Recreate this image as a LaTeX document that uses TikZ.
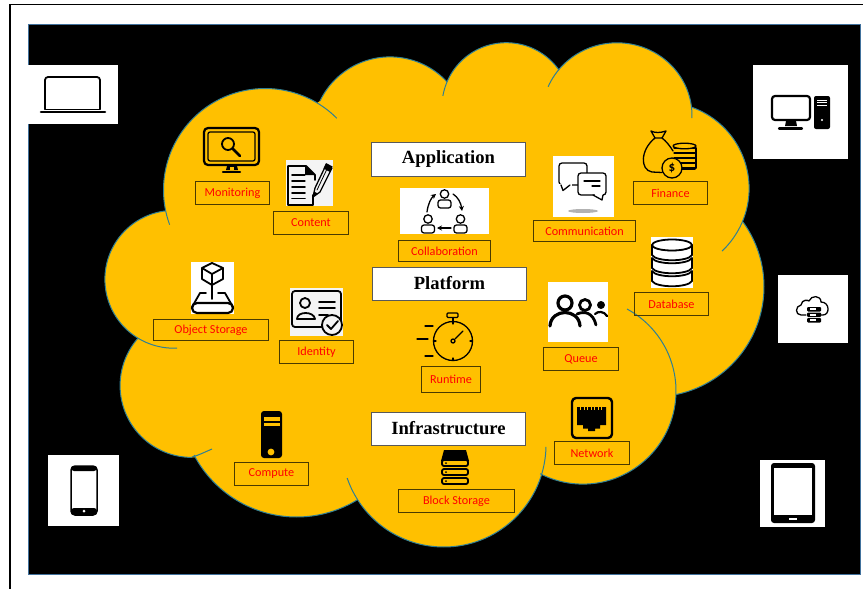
\documentclass[tikz,border=0pt]{standalone}
\usepackage{fontspec}
\setmainfont{Carlito}
\newfontfamily\titlefont{Liberation Serif}
\usetikzlibrary{arrows.meta}
\definecolor{cloudfill}{HTML}{FFC000}
\definecolor{cloudline}{HTML}{2F7F94}
\definecolor{lblline}{HTML}{4A3A00}
\definecolor{softwhite}{HTML}{F4F4F4}
\definecolor{frameblue}{HTML}{41719C}
\tikzset{
  lbl/.style={draw=lblline,line width=1pt,inner sep=0pt,text=red,font=\fontsize{12.2}{14}\selectfont},
  ttl/.style={draw=black!65,line width=1.2pt,fill=white,inner sep=0pt,minimum width=154pt,minimum height=33.5pt,font=\titlefont\bfseries\fontsize{18.6}{20}\selectfont},
  cloudedge/.style={draw=cloudline,line width=1pt},
  bgbox/.style={fill=white},
  ic/.style={draw=black,line width=1.8pt,line join=round,line cap=round},
  thin ic/.style={draw=black,line width=1.3pt,line join=round,line cap=round},
}
\newcommand{\cloudlobe}[4]{% cx cy rx ry: fills the whole ellipse
  \fill[cloudfill] (#1,#2) circle[x radius=#3pt,y radius=#4pt];}
\newcommand{\lobeedge}[6]{%
  \draw[cloudedge] plot[smooth,domain=#5:#6,samples=60,variable=\t] ({#1+#3*cos(\t)},{#2+#4*sin(\t)});}
\newcommand{\collabperson}[2]{%
  \begin{scope}[shift={(#1,#2)}]
    \draw[thin ic] (0,-6) circle (4.2);
    \draw[thin ic,rounded corners=2.5pt] (-6.5,8) rectangle (6.5,0);
  \end{scope}}
\newcommand{\dbdisc}[1]{%
  \draw[ic,fill=white] (652,#1) -- (652,#1+10) .. controls (656,#1+17) and (688,#1+17) .. (692,#1+10) -- (692,#1) .. controls (688,#1+7) and (656,#1+7) .. (652,#1) -- cycle;}
\newcommand{\blockpill}[1]{%
  \draw[ic,fill=cloudfill,rounded corners=2pt] (442,#1) rectangle (468,#1+6);
  \fill[black] (446,#1+3) circle (1);}
\begin{document}
\begin{tikzpicture}[x=1pt,y=-1pt]
\useasboundingbox (0,0) rectangle (863,589);
\fill[white] (0,0) rectangle (863,589);
\draw[black,line width=1.1pt] (863,4.3) -- (10,4.3) -- (10,589);
\draw[fill=black,draw=frameblue,line width=1pt] (28,24) rectangle (860,574);
% cloud body
\fill[cloudfill] (165,211) -- (320,101) -- (447,82) -- (559,70) -- (691,107) -- (743,222) -- (676,393) -- (541,472) -- (357,500) -- (194,455) -- (138,338) -- cycle;
\cloudlobe{265}{190}{101.5}{101.5}
\cloudlobe{390}{134.5}{77.6}{77.6}
\cloudlobe{506.3}{107.1}{64.4}{64.4}
\cloudlobe{617}{115.5}{75}{72.7}
\cloudlobe{663}{188.4}{86.1}{86.1}
\cloudlobe{653.9}{286.7}{110.1}{110.1}
\cloudlobe{582.9}{391}{93.1}{93.1}
\cloudlobe{443.8}{444.8}{102.2}{102.2}
\cloudlobe{296.6}{401.2}{115.8}{115.8}
\cloudlobe{191.9}{385.6}{71.8}{71.8}
\cloudlobe{173.8}{279.3}{68.9}{68.9}
% cloud outline
\lobeedge{265}{190}{101.5}{101.5}{160}{315}
\lobeedge{390}{134.5}{77.6}{77.6}{205.6}{317.4}
\lobeedge{506.3}{107.1}{64.4}{64.4}{190}{325}
\lobeedge{617}{115.5}{75}{72.7}{203.3}{362}
\lobeedge{663}{188.4}{86.1}{86.1}{289}{406.7}
\lobeedge{653.9}{286.7}{110.1}{110.1}{324}{438.3}
\lobeedge{582.9}{391}{93.1}{93.1}{298.3}{477.3}
\lobeedge{443.8}{444.8}{102.2}{102.2}{1.2}{161}
\lobeedge{296.6}{401.2}{115.8}{115.8}{58.6}{152.3}
\lobeedge{191.9}{385.6}{71.8}{71.8}{90}{221.5}
\lobeedge{173.8}{279.3}{68.9}{68.9}{87.3}{262.7}
\draw[cloudedge] (192,457) .. controls (198,455.5) and (205,452) .. (212,449);
% device backgrounds
\fill[bgbox] (28,65) rectangle (118,124);
\fill[bgbox] (753,65) rectangle (848,159);
\fill[bgbox] (778,275) rectangle (848,343);
\fill[bgbox] (760,460) rectangle (825,527);
\fill[bgbox] (48,455) rectangle (119,526);
% laptop
\draw[ic,rounded corners=3pt] (45,109) -- (45,77) -- (100,77) -- (100,109);
\draw[ic,line width=2.6pt] (41,112) -- (105,112);
\draw[ic] (45,109.5) -- (100,109.5);
% desktop
\draw[ic,line width=2.2pt,rounded corners=3pt] (772,96) rectangle (810,120);
\fill[black] (786,121) -- (796,121) -- (797,126) -- (785,126) -- cycle;
\draw[ic,line width=2.2pt] (779,128.5) -- (802,128.5);
\fill[black,rounded corners=2pt] (814,96) rectangle (830,129);
\foreach \yy in {100,102.5,105}{\draw[white,line width=.7pt] (817,\yy) -- (827,\yy);}
\fill[white] (822,120) circle (1.2);
% cloud server
\draw[thin ic] (806,315) -- (801,315) .. controls (795,315) and (795,306) .. (801,305) .. controls (802,299) and (808,300) .. (809,301) .. controls (811,295) and (821,295) .. (821,302) .. controls (830,302) and (830,315) .. (823,315) -- (821,315);
\foreach \yy in {307,312.5,318}{\fill[black,rounded corners=1pt] (807,\yy) rectangle (821,\yy+4.5);\fill[white] (809.5,\yy+1.2) rectangle (816,\yy+3);}
% tablet
\fill[black,rounded corners=3pt] (771,463) rectangle (815,523);
\fill[white] (774,468) rectangle (812,515);
\fill[white] (789,517.5) rectangle (797,520);
% phone
\draw[ic,line width=1.5pt,rounded corners=4pt] (71,466) rectangle (97,515);
\fill[black,rounded corners=3pt] (71,466) rectangle (97,471);
\fill[black,rounded corners=3pt] (71,508) rectangle (97,515);
\fill[white] (84,511) circle (1.5);
% Monitoring icon
\draw[ic,line width=2.2pt,rounded corners=4pt] (204,128) rectangle (259,165);
\draw[thin ic,rounded corners=2pt] (208,132) rectangle (255,161);
\draw[ic] (228,144) circle (6);
\draw[ic,line width=2.6pt] (233,149) -- (240,156);
\fill[black] (227,166) -- (237,166) -- (238,170) -- (226,170) -- cycle;
\draw[ic,line width=2.4pt] (223,172) -- (240,172);
\fill[cloudfill] (230,166.5) rectangle (234,169.5);
% Content icon
\fill[softwhite] (286,160) rectangle (333,206);
\draw[ic] (313,195) -- (313,205) -- (288,205) -- (288,166) -- (306,166) -- (315,175) -- (315,180);
\fill[black] (305,166) -- (315,175) -- (305,175) -- cycle;
\foreach \yy in {175,181,187,193,198.5}{\draw[ic] (292,\yy) -- (303+\yy/100,\yy);}
\draw[thin ic,fill=softwhite] (313,197) -- (315,188) -- (326,165) -- (332,168) -- (320,192) -- cycle;
\fill[black] (326,163) -- (332.5,166.5) -- (330,172) -- (323.5,168.5) -- cycle;
\fill[black] (313,197) -- (314,191.5) -- (318,193.5) -- cycle;
\draw[thin ic,line width=.8pt] (317,190) -- (327,169);
% Collaboration icon
\fill[bgbox] (400,188) rectangle (489,234);
\collabperson{444.5}{200}
\collabperson{428}{225}
\collabperson{460.5}{225}
\draw[thin ic,-{Stealth[length=5pt,width=5pt]}] (427,212) .. controls (428,204) and (431,198) .. (436,194);
\draw[thin ic,-{Stealth[length=5pt,width=5pt]}] (453,194) .. controls (458,197) and (461,203) .. (462,211);
\draw[thin ic,-{Stealth[length=5pt,width=5pt]}] (451,228) -- (437,228);
% Object storage icon
\fill[bgbox] (191,262) rectangle (234,314);
\draw[ic] (212,263) -- (223,268) -- (223,279) -- (212,285) -- (202,279) -- (202,268) -- cycle;
\draw[ic] (202,268) -- (212,274) -- (223,268) (212,274) -- (212,285);
\draw[ic] (212,285) -- (212,299);
\draw[ic] (206,293) -- (200,293) -- (192,307) (218,293) -- (225,293) -- (233,307);
\draw[ic,line width=2.2pt,rounded corners=5pt] (192,303) rectangle (233,313);
% Identity icon
\fill[softwhite] (290,288) rectangle (343,336);
\draw[ic,rounded corners=3pt] (292,291) rectangle (341,327);
\draw[ic] (305,303) circle (5);
\draw[ic] (297,319) .. controls (297,311) and (314,311) .. (315,319) -- cycle;
\draw[ic] (319,302) -- (335,302) (319,308) -- (335,308) (319,315) -- (328,315);
\draw[ic,fill=softwhite] (332,325) circle (10);
\draw[ic] (327,325) -- (331,329) -- (338,321);
% Communication icon
\fill[bgbox] (553,156) rectangle (614,217);
\draw[thin ic,rounded corners=3pt] (559,163) rectangle (587,185);
\fill[bgbox] (559,184) rectangle (572,186.5);
\draw[thin ic] (561,185) -- (563,190.5) -- (570,185);
\draw[thin ic,rounded corners=3pt,fill=white] (578,173) rectangle (606,195);
\fill[bgbox] (595,194) rectangle (603,196);
\draw[thin ic] (593,195) -- (602,200) -- (603,195);
\draw[thin ic] (584,181) -- (600,181) (592,186) -- (600,186);
\fill[black!30] (583,211) ellipse (15 and 2);
% Finance icon
\draw[thin ic] (651,131) .. controls (655,133) and (660,133) .. (666,131) -- (662,138) -- (655,138) -- cycle;
\draw[thin ic] (655,138) .. controls (640,150) and (640,170) .. (652,172) -- (662,172.5) (662,138) .. controls (666,141) and (670,146) .. (673,151);
\foreach \yy in {148,153,158,163,168}{\draw[thin ic] (674,\yy) -- (696,\yy);}
\draw[thin ic,fill=cloudfill] (684.5,146) ellipse (11.5 and 2.8);
\draw[thin ic] (696,148) -- (696,168) (680,169.5) -- (695,169.5);
\draw[thin ic,fill=cloudfill] (672,168) circle (10);
\node[inner sep=0pt,font=\bfseries\fontsize{13}{13}\selectfont] (dollar) at (672,168) {\$};
% Database icon
\fill[bgbox] (651,237) rectangle (693,288);
\dbdisc{271}
\dbdisc{258}
\dbdisc{245}
\draw[ic,fill=white] (672,245) ellipse (20 and 5.5);
% Queue icon
\fill[bgbox] (548,282) rectangle (608,342);
\draw[ic,line width=3.2pt] (565,303) circle (7);
\draw[ic,line width=3.2pt] (550,326) .. controls (551,308) and (579,308) .. (580,326);
\draw[ic,line width=2.8pt] (585,305) circle (5.5);
\draw[ic,line width=2.8pt] (577,314) .. controls (584,311) and (593,312) .. (596,325);
\draw[ic,line width=2.2pt,fill=black] (601,305) circle (2.8);
\draw[ic,line width=2.2pt] (595,314) .. controls (598,311) and (604,311) .. (607,316);
% Runtime icon
\draw[thin ic] (453,341) circle (19.5);
\draw[thin ic,rounded corners=1pt] (447,313) rectangle (458,317.5);
\draw[thin ic] (453,317.5) -- (453,321.5);
\draw[thin ic] (453,341) ++(2,-2) -- (463,331);
\draw[thin ic] (453,341) circle (2);
\draw[thin ic] (433.5,341) -- (436,341) (472.5,341) -- (470,341) (453,358) -- (453,360.5) (453,321.5) -- (453,324);
\draw[thin ic] (425,326) -- (433,326) (417,339) -- (428,339) (425,356) -- (433,356);
% Network icon
\draw[ic,line width=2.4pt,rounded corners=4pt] (572,398) rectangle (612,438);
\fill[black] (577,407) -- (606,407) -- (606,425) -- (600,425) -- (600,428.5) -- (595,428.5) -- (595,431) -- (588,431) -- (588,428.5) -- (583,428.5) -- (583,425) -- (577,425) -- cycle;
\foreach \xx in {580.5,584,587.5,591,594.5,598,601.5}{\draw[cloudfill,line width=.8pt] (\xx,406.5) -- (\xx,410);}
% Block storage icon
\fill[black] (444,450) -- (466,450) -- (469,461) -- (441,461) -- cycle;
\blockpill{460}
\blockpill{469}
\blockpill{478}
% Compute icon
\fill[black,rounded corners=3pt] (261,411) rectangle (282,458);
\fill[cloudfill] (264,417) rectangle (280,420.5);
\fill[cloudfill] (264,423) rectangle (280,426);
\fill[cloudfill] (271,452) circle (3.4);
% Titles
\node[ttl] (application) at (448.5,159.5) {\raisebox{2pt}{Application}};
\node[ttl] (platform) at (449.5,284) {\raisebox{2pt}{Platform}};
\node[ttl] (infrastructure) at (448.5,429) {\raisebox{2pt}{Infrastructure}};
% Labels
\node[lbl,minimum width=74pt,minimum height=23pt] (monitoring) at (232.5,193) {Monitoring};
\node[lbl,minimum width=75pt,minimum height=23pt] (content) at (311,223) {Content};
\node[lbl,minimum width=115pt,minimum height=21pt] (objectstorage) at (211,330) {Object Storage};
\node[lbl,minimum width=74pt,minimum height=23pt] (identity) at (316.5,352) {Identity};
\node[lbl,minimum width=92pt,minimum height=21pt] (collaboration) at (444.5,251) {Collaboration};
\node[lbl,minimum width=102pt,minimum height=21pt] (communication) at (584.5,231) {Communication};
\node[lbl,minimum width=74pt,minimum height=23pt] (finance) at (670.5,193) {Finance};
\node[lbl,minimum width=74pt,minimum height=23pt] (database) at (671.5,304) {Database};
\node[lbl,minimum width=75pt,minimum height=23pt] (queue) at (581,359) {Queue};
\node[lbl,minimum width=59pt,minimum height=26pt] (runtime) at (451,379.5) {Runtime};
\node[lbl,minimum width=75pt,minimum height=23pt] (network) at (592,453) {Network};
\node[lbl,minimum width=116pt,minimum height=23pt] (blockstorage) at (456.5,501) {Block Storage};
\node[lbl,minimum width=74pt,minimum height=23pt] (compute) at (271.5,474) {Compute};
\end{tikzpicture}
\end{document}
